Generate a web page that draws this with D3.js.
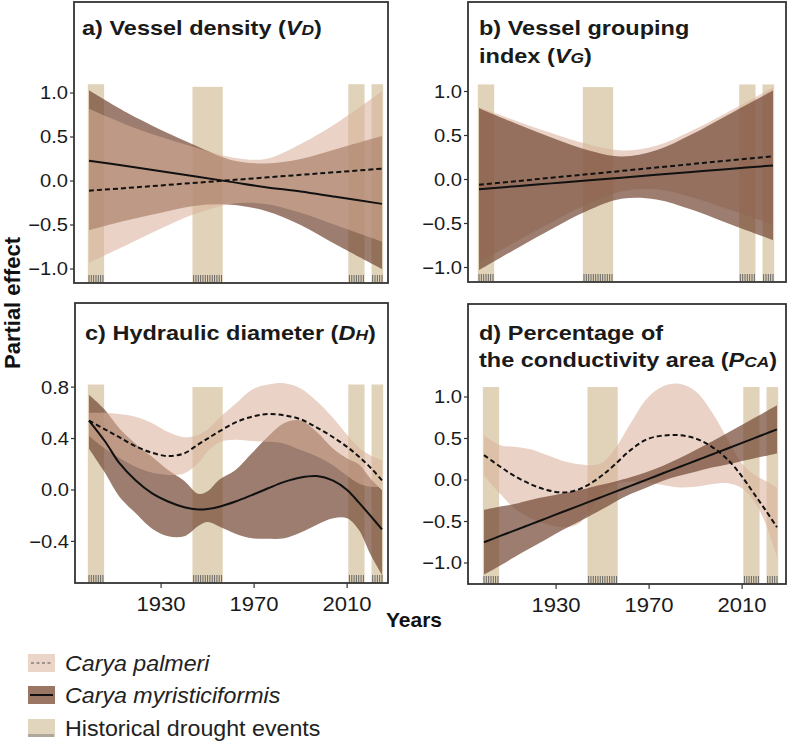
<!DOCTYPE html>
<html>
<head>
<meta charset="utf-8">
<script src="https://cdn.jsdelivr.net/npm/d3@7"></script>
<style>
  body { margin: 0; background: #fff; }
  svg { display: block; }
</style>
</head>
<body>
<svg width="787" height="742"></svg>
<script>
var yearsLin = [1899, 1915, 1930, 1945, 1960, 1975, 1990, 2005, 2025];
var yearsSm = [1899, 1906, 1912, 1919, 1926, 1933, 1940, 1946, 1950, 1955, 1962,
               1969, 1976, 1983, 1990, 1997, 2004, 2010, 2015, 2020, 2025];

// drought periods
var droughtStart = [1899, 1944, 2011, 2021];
var droughtEnd = [1905, 1956, 2017, 2025];
var xTicks = [1930, 1970, 2010];

// a) vessel density
var aPalm = [-0.11, -0.08, -0.05, -0.02, 0.01, 0.04, 0.07, 0.10, 0.14];
var aPalmLo = [-0.93, -0.73, -0.54, -0.37, -0.26, -0.26, -0.36, -0.50, -0.69];
var aPalmHi = [0.82, 0.64, 0.50, 0.38, 0.27, 0.25, 0.42, 0.65, 1.02];
var aMyr = [0.23, 0.17, 0.11, 0.05, -0.01, -0.07, -0.12, -0.18, -0.26];
var aMyrLo = [-0.56, -0.45, -0.36, -0.28, -0.27, -0.34, -0.50, -0.72, -1.0];
var aMyrHi = [1.03, 0.78, 0.58, 0.40, 0.24, 0.20, 0.25, 0.36, 0.51];

// b) vessel grouping index
var bPalm = [-0.06, -0.019, 0.02, 0.059, 0.097, 0.136, 0.175, 0.213, 0.265];
var bPalmLo = [-0.94, -0.704, -0.488, -0.287, -0.136, -0.112, -0.201, -0.33, -0.515];
var bPalmHi = [0.82, 0.666, 0.528, 0.405, 0.33, 0.384, 0.551, 0.756, 1.045];
var bMyr = [-0.11, -0.076, -0.044, -0.011, 0.021, 0.053, 0.085, 0.117, 0.16];
var bMyrLo = [-1.03, -0.786, -0.565, -0.361, -0.22, -0.226, -0.341, -0.491, -0.69];
var bMyrHi = [0.81, 0.634, 0.477, 0.339, 0.262, 0.332, 0.511, 0.725, 1.01];

// c) hydraulic diameter
var cPalm = [0.54, 0.47, 0.41, 0.34, 0.29, 0.264, 0.285, 0.355, 0.40, 0.455, 0.525,
             0.57, 0.59, 0.58, 0.55, 0.485, 0.41, 0.335, 0.26, 0.175, 0.075];
var cPalmLo = [0.42, 0.32, 0.25, 0.18, 0.135, 0.117, 0.13, 0.21, 0.30, 0.37, 0.39,
               0.38, 0.375, 0.36, 0.31, 0.26, 0.19, 0.11, 0.05, 0.025, 0.02];
var cPalmHi = [0.60, 0.60, 0.59, 0.57, 0.52, 0.45, 0.41, 0.43, 0.47, 0.56, 0.67,
               0.78, 0.82, 0.83, 0.79, 0.69, 0.56, 0.43, 0.33, 0.27, 0.23];
var cMyr = [0.54, 0.375, 0.21, 0.075, -0.025, -0.09, -0.135, -0.152, -0.148, -0.13, -0.09,
            -0.04, 0.013, 0.063, 0.097, 0.108, 0.072, 0.0, -0.097, -0.2, -0.306];
var cMyrLo = [0.32, 0.13, -0.05, -0.18, -0.30, -0.36, -0.36, -0.28, -0.25, -0.285, -0.34,
              -0.375, -0.38, -0.375, -0.33, -0.27, -0.22, -0.22, -0.31, -0.50, -0.66];
var cMyrHi = [0.74, 0.62, 0.48, 0.36, 0.26, 0.155, 0.07, -0.03, -0.01, 0.08, 0.155,
              0.285, 0.415, 0.52, 0.54, 0.45, 0.32, 0.245, 0.20, 0.09, 0.0];

// d) percentage of the conductivity area
var dPalm = [0.30, 0.16, 0.05, -0.05, -0.12, -0.15, -0.11, -0.02, 0.06, 0.18, 0.36,
             0.49, 0.535, 0.54, 0.50, 0.40, 0.24, 0.04, -0.16, -0.36, -0.57];
var dPalmLo = [0.05, -0.17, -0.34, -0.46, -0.53, -0.57, -0.52, -0.30, -0.15, -0.05, -0.02,
               -0.03, -0.06, -0.09, -0.08, -0.05, -0.04, -0.10, -0.25, -0.52, -0.93];
var dPalmHi = [0.54, 0.42, 0.40, 0.37, 0.30, 0.23, 0.19, 0.18, 0.21, 0.36, 0.68,
               0.98, 1.13, 1.16, 1.07, 0.82, 0.48, 0.20, 0.07, -0.01, -0.09];
var dMyr = [-0.75, -0.674, -0.61, -0.534, -0.459, -0.383, -0.308, -0.243, -0.20, -0.146, -0.07,
            0.005, 0.081, 0.156, 0.232, 0.307, 0.383, 0.448, 0.502, 0.556, 0.61];
var dMyrLo = [-1.14, -1.03, -0.93, -0.82, -0.71, -0.60, -0.50, -0.41, -0.35, -0.27, -0.17,
              -0.09, -0.01, 0.05, 0.10, 0.15, 0.19, 0.23, 0.26, 0.29, 0.32];
var dMyrHi = [-0.36, -0.32, -0.29, -0.24, -0.20, -0.16, -0.12, -0.08, -0.054, -0.02, 0.034,
              0.096, 0.173, 0.263, 0.362, 0.465, 0.572, 0.665, 0.743, 0.821, 0.90];

var ticksA = [-1, -0.5, 0, 0.5, 1];
var ticksC = [-0.4, 0, 0.4, 0.8];

var FONT = "'Liberation Sans', Arial, Helvetica, sans-serif";
var LIGHT = "#dab099", DARK = "#724632", DROUGHT = "#e0d3b9";

var panels = [
  {box: [74, 2, 314, 281], xr: [89, 382], yd: [-1, 1], yr: [269, 93], ticks: ticksA,
   years: yearsLin, palm: aPalm, palmLo: aPalmLo, palmHi: aPalmHi, myr: aMyr, myrLo: aMyrLo, myrHi: aMyrHi,
   barTop: [1.10, 1.07, 1.10, 1.10], lightTop: true, xAxis: false,
   title: [[["a) Vessel density (", ""], ["V", "i"], ["D", "s"], [")", ""]]], tx: 82, ty: [35]},
  {box: [468, 2, 318, 280], xr: [479, 773], yd: [-1, 1], yr: [267.5, 91.5], ticks: ticksA,
   years: yearsLin, palm: bPalm, palmLo: bPalmLo, palmHi: bPalmHi, myr: bMyr, myrLo: bMyrLo, myrHi: bMyrHi,
   barTop: [1.08, 1.05, 1.08, 1.08], lightTop: false, xAxis: false,
   title: [[["b) Vessel grouping", ""]], [["index (", ""], ["V", "i"], ["G", "s"], [")", ""]]], tx: 479, ty: [35, 63]},
  {box: [75, 303, 313, 280], xr: [89, 382], yd: [-0.4, 0.8], yr: [541.4, 387.1], ticks: ticksC,
   years: yearsSm, palm: cPalm, palmLo: cPalmLo, palmHi: cPalmHi, myr: cMyr, myrLo: cMyrLo, myrHi: cMyrHi,
   barTop: [0.82, 0.80, 0.82, 0.82], lightTop: true, xAxis: true,
   title: [[["c) Hydraulic diameter (", ""], ["D", "i"], ["H", "s"], [")", ""]]], tx: 85, ty: [340]},
  {box: [468, 304, 318, 280], xr: [484, 777], yd: [-1, 1], yr: [563, 397], ticks: ticksA,
   years: yearsSm, palm: dPalm, palmLo: dPalmLo, palmHi: dPalmHi, myr: dMyr, myrLo: dMyrLo, myrHi: dMyrHi,
   barTop: [1.12, 1.12, 1.12, 1.12], lightTop: false, xAxis: true,
   title: [[["d) Percentage of", ""]], [["the conductivity area (", ""], ["P", "i"], ["CA", "s"], [")", ""]]], tx: 479, ty: [340, 367]}
];

var svg = d3.select("svg").style("font-family", FONT);
var fmt = d3.format(".1f");

// text with a slight horizontal stretch, like the source figure
function addText(g, x, y, str, size, sx, anchor) {
  return g.append("text")
    .attr("transform", "translate(" + x + "," + y + ") scale(" + sx + ",1)")
    .attr("text-anchor", anchor || "start")
    .style("font-size", size + "px")
    .attr("fill", "#1a1a1a")
    .text(str);
}

panels.forEach((p, pi) => {
  var bx = p.box[0], by = p.box[1], bw = p.box[2], bh = p.box[3];
  var x = d3.scaleLinear().domain([1899, 2025]).range(p.xr);
  var y = d3.scaleLinear().domain(p.yd).range(p.yr);
  var g = svg.append("g");

  g.append("clipPath").attr("id", "clip" + pi)
    .append("rect").attr("x", bx).attr("y", by).attr("width", bw).attr("height", bh);
  var plot = g.append("g").attr("clip-path", "url(#clip" + pi + ")");

  // drought bars
  plot.selectAll("rect.drought")
    .data(droughtStart).enter().append("rect")
    .attr("class", "drought")
    .attr("x", (d) => x(d - 0.5))
    .attr("width", (d, i) => x(droughtEnd[i] + 0.5) - x(d - 0.5))
    .attr("y", (d, i) => y(p.barTop[i]))
    .attr("height", (d, i) => by + bh - y(p.barTop[i]))
    .attr("fill", DROUGHT);

  // rug of drought years
  var rugYears = [];
  droughtStart.forEach((s, i) => { rugYears = rugYears.concat(d3.range(s, droughtEnd[i] + 1)); });
  plot.selectAll("line.rug")
    .data(rugYears).enter().append("line")
    .attr("class", "rug")
    .attr("x1", (d) => x(d)).attr("x2", (d) => x(d))
    .attr("y1", by + bh - 8).attr("y2", by + bh - 1)
    .attr("stroke", "#5a5a5a").attr("stroke-width", 0.9);

  var curve = d3.curveCatmullRom.alpha(0.5);
  var area = (lo, hi) => d3.area()
    .x((d) => x(d)).y0((d, i) => y(lo[i])).y1((d, i) => y(hi[i])).curve(curve);
  var line = (vals) => d3.line().x((d) => x(d)).y((d, i) => y(vals[i])).curve(curve);

  var ribbons = [
    {lo: p.myrLo, hi: p.myrHi, fill: DARK, op: 0.7},
    {lo: p.palmLo, hi: p.palmHi, fill: LIGHT, op: 0.56}
  ];
  if (!p.lightTop) ribbons.reverse();
  ribbons.forEach((r) => {
    plot.append("path").datum(p.years)
      .attr("d", area(r.lo, r.hi))
      .attr("fill", r.fill).attr("fill-opacity", r.op);
  });

  plot.append("path").datum(p.years)
    .attr("d", line(p.palm))
    .attr("fill", "none").attr("stroke", "#111").attr("stroke-width", 2)
    .attr("stroke-dasharray", "5,3");
  plot.append("path").datum(p.years)
    .attr("d", line(p.myr))
    .attr("fill", "none").attr("stroke", "#111").attr("stroke-width", 2);

  // y axis
  p.ticks.forEach((t) => {
    g.append("line")
      .attr("x1", bx - 4).attr("x2", bx).attr("y1", y(t)).attr("y2", y(t))
      .attr("stroke", "#333").attr("stroke-width", 1.2);
    addText(g, bx - 6, y(t) + 6.4, fmt(t), 18, 1.12, "end");
  });

  // x axis
  if (p.xAxis) {
    xTicks.forEach((t) => {
      g.append("line")
        .attr("x1", x(t)).attr("x2", x(t)).attr("y1", by + bh).attr("y2", by + bh + 5)
        .attr("stroke", "#333").attr("stroke-width", 1.2);
      addText(g, x(t), by + bh + 28, String(t), 21, 1.05, "middle");
    });
  }

  // frame
  g.append("rect")
    .attr("x", bx).attr("y", by).attr("width", bw).attr("height", bh)
    .attr("fill", "none").attr("stroke", "#333").attr("stroke-width", 1.8);

  // title
  p.title.forEach((segs, li) => {
    var t = addText(g, p.tx, p.ty[li], "", 21, 1.12, "start").style("font-weight", "bold");
    segs.forEach((s) => {
      var sp = t.append("tspan").text(s[0]);
      if (s[1]) sp.style("font-style", "italic");
      if (s[1] === "s") sp.style("font-size", "15.5px");
    });
  });
});

// axis titles
svg.append("text")
  .attr("transform", "translate(20,303) rotate(-90)")
  .attr("text-anchor", "middle")
  .style("font-size", "22px").style("font-weight", "bold")
  .attr("fill", "#111")
  .text("Partial effect");
addText(svg, 414, 627, "Years", 20, 1.05, "middle").style("font-weight", "bold").attr("fill", "#111");

// legend
var legRows = [663, 695, 728];
var leg = svg.append("g");
leg.append("rect").attr("x", 28).attr("y", legRows[0] - 9).attr("width", 27).attr("height", 18).attr("fill", "#ebd5c8");
leg.append("line").attr("x1", 31).attr("x2", 53).attr("y1", legRows[0]).attr("y2", legRows[0])
  .attr("stroke", "#555").attr("stroke-width", 1.2).attr("stroke-dasharray", "3,2.5");
leg.append("rect").attr("x", 28).attr("y", legRows[1] - 9).attr("width", 27).attr("height", 18).attr("fill", "#9c7664");
leg.append("line").attr("x1", 30).attr("x2", 53).attr("y1", legRows[1]).attr("y2", legRows[1])
  .attr("stroke", "#111").attr("stroke-width", 2);
leg.append("rect").attr("x", 28).attr("y", legRows[2] - 9).attr("width", 27).attr("height", 18).attr("fill", "#e2d5bd");
leg.selectAll("line.lrug").data(d3.range(29, 55, 2)).enter().append("line")
  .attr("x1", (d) => d).attr("x2", (d) => d)
  .attr("y1", legRows[2] + 6).attr("y2", legRows[2] + 9)
  .attr("stroke", "#666").attr("stroke-width", 0.8);

var legText = ["Carya palmeri", "Carya myristiciformis", "Historical drought events"];
legText.forEach((s, i) => {
  var t = addText(leg, 65, legRows[i] + 7.5, s, 21.5, 1.08, "start").attr("fill", "#222");
  if (i < 2) t.style("font-style", "italic");
});
</script>
</body>
</html>
